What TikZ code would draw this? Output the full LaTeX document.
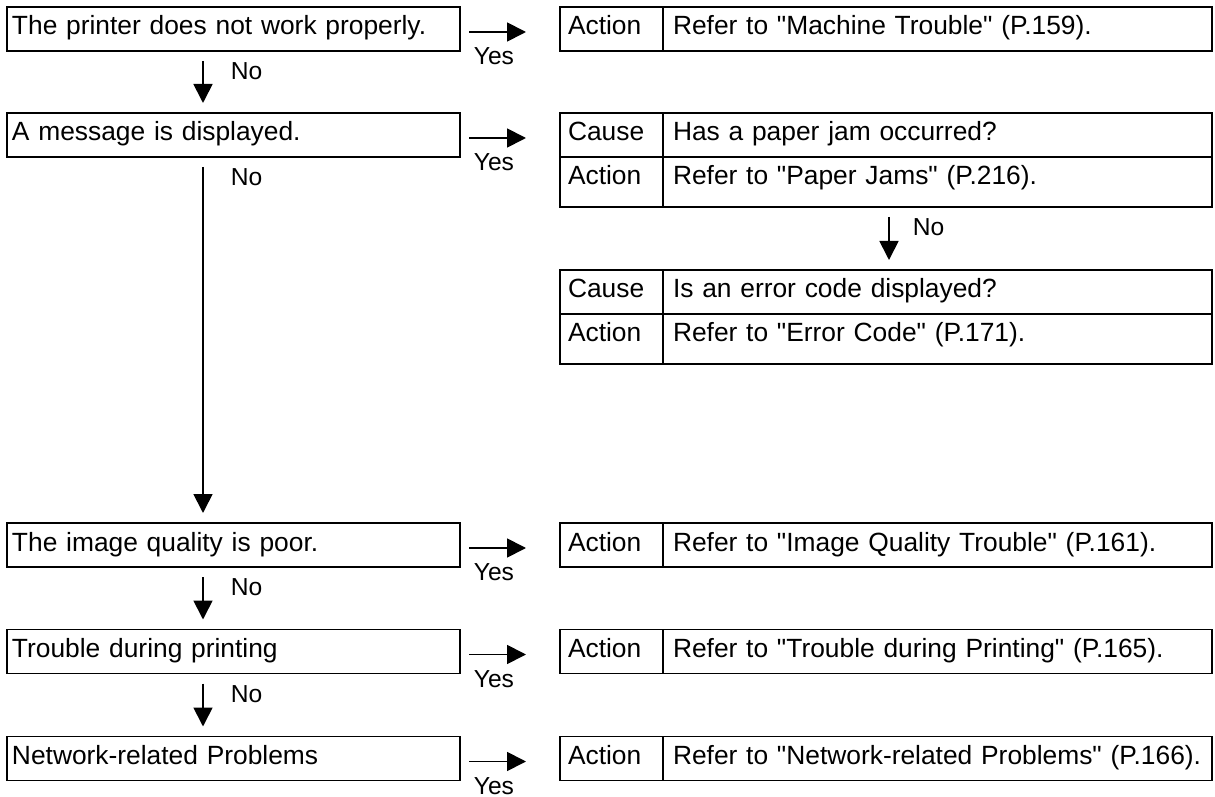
\documentclass[tikz,border=0pt]{standalone}
\usepackage{fontspec}
\newfontfamily\arialf{Liberation Sans}
\usetikzlibrary{arrows.meta,positioning}
\tikzset{
  qbox/.style={rectangle,draw,line width=1.1pt,outer sep=0pt,anchor=west,
               minimum width=9.06cm,text width=8.86cm,inner xsep=0.1cm,
               inner ysep=0.1cm,minimum height=0.88cm,text height=0.4cm,
               text depth=0.16cm,align=left,font=\arialf\fontsize{15}{18}\selectfont},
  kcell/.style={rectangle,draw,line width=1.1pt,outer sep=0pt,
               minimum width=2.06cm,text width=1.74cm,inner xsep=0.16cm,
               inner ysep=0.1cm,minimum height=0.88cm,text height=0.4cm,
               text depth=0.16cm,align=left,font=\arialf\fontsize{15}{18}\selectfont},
  vcell/.style={kcell,minimum width=10.98cm,text width=10.58cm,inner xsep=0.2cm},
  tall/.style={minimum height=1cm,text depth=0.3cm},
  arr/.style={-{Triangle[length=0.38cm,width=0.38cm]},line width=1pt},
  yn/.style={anchor=north west,inner sep=0pt,font=\arialf\fontsize{14}{16}\selectfont},
}

\begin{document}
\begin{tikzpicture}

  \useasboundingbox (0,0) rectangle (24.3,-15.94);

  % questions, left column
  \node[qbox] (Q1) at (0.14,-0.58)  {The printer does not work properly.};
  \node[qbox] (Q2) at (0.14,-2.70)  {A message is displayed.};
  \node[qbox] (Q3) at (0.14,-10.90) {The image quality is poor.};
  \node[qbox] (Q4) at (0.14,-13.03) {Trouble during printing};
  \node[qbox] (Q5) at (0.14,-15.17) {Network-related Problems};

  % answers, right column
  \node[kcell,anchor=west] (A1) at (11.2,-0.58) {Action};
  \node[vcell,right=0pt of A1] (A1t) {Refer to "Machine Trouble" (P.159).};

  \node[kcell,anchor=west] (Ca) at (11.2,-2.70) {Cause};
  \node[vcell,right=0pt of Ca] (Cat) {Has a paper jam occurred?};
  \node[kcell,tall,below=0pt of Ca] (Aa) {Action};
  \node[vcell,tall,right=0pt of Aa] (Aat) {Refer to "Paper Jams" (P.216).};

  \node[kcell,anchor=west] (Cb) at (11.2,-5.84) {Cause};
  \node[vcell,right=0pt of Cb] (Cbt) {Is an error code displayed?};
  \node[kcell,tall,below=0pt of Cb] (Ab) {Action};
  \node[vcell,tall,right=0pt of Ab] (Abt) {Refer to "Error Code" (P.171).};

  \node[kcell,anchor=west] (A3) at (11.2,-10.90) {Action};
  \node[vcell,right=0pt of A3] (A3t) {Refer to "Image Quality Trouble" (P.161).};

  \node[kcell,anchor=west] (A4) at (11.2,-13.03) {Action};
  \node[vcell,right=0pt of A4] (A4t) {Refer to "Trouble during Printing" (P.165).};

  \node[kcell,anchor=west] (A5) at (11.2,-15.17) {Action};
  \node[vcell,right=0pt of A5] (A5t) {Refer to "Network-related Problems" (P.166).};

  % yes branches
  \draw[arr] ([xshift=0.18cm,yshift=-0.06cm]Q1.east) -- ([xshift=-0.68cm,yshift=-0.06cm]A1.west)
    node[yn,pos=0,xshift=0.08cm,yshift=-0.3cm] {Yes};
  \draw[arr] ([xshift=0.18cm,yshift=-0.06cm]Q2.east) -- ([xshift=-0.68cm,yshift=-0.06cm]Ca.west)
    node[yn,pos=0,xshift=0.08cm,yshift=-0.3cm] {Yes};
  \draw[arr] ([xshift=0.18cm,yshift=-0.06cm]Q3.east) -- ([xshift=-0.68cm,yshift=-0.06cm]A3.west)
    node[yn,pos=0,xshift=0.08cm,yshift=-0.3cm] {Yes};
  \draw[arr] ([xshift=0.18cm,yshift=-0.06cm]Q4.east) -- ([xshift=-0.68cm,yshift=-0.06cm]A4.west)
    node[yn,pos=0,xshift=0.08cm,yshift=-0.3cm] {Yes};
  \draw[arr] ([xshift=0.18cm,yshift=-0.06cm]Q5.east) -- ([xshift=-0.68cm,yshift=-0.06cm]A5.west)
    node[yn,pos=0,xshift=0.08cm,yshift=-0.3cm] {Yes};

  % no branches
  \draw[arr] ([xshift=3.92cm,yshift=-0.2cm]Q1.south west) -- ([xshift=3.92cm,yshift=0.2cm]Q2.north west)
    node[yn,pos=0,xshift=0.54cm,yshift=-0.02cm] {No};
  \draw[arr] ([xshift=3.92cm,yshift=-0.2cm]Q2.south west) -- ([xshift=3.92cm,yshift=0.2cm]Q3.north west)
    node[yn,pos=0,xshift=0.54cm,yshift=-0.02cm] {No};
  \draw[arr] ([xshift=3.92cm,yshift=-0.2cm]Q3.south west) -- ([xshift=3.92cm,yshift=0.2cm]Q4.north west)
    node[yn,pos=0,xshift=0.54cm,yshift=-0.02cm] {No};
  \draw[arr] ([xshift=3.92cm,yshift=-0.2cm]Q4.south west) -- ([xshift=3.92cm,yshift=0.2cm]Q5.north west)
    node[yn,pos=0,xshift=0.54cm,yshift=-0.02cm] {No};
  \draw[arr] ([xshift=-0.97cm,yshift=-0.2cm]Aat.south) -- ([xshift=-0.97cm,yshift=0.2cm]Cbt.north)
    node[yn,pos=0,xshift=0.46cm,yshift=-0.02cm] {No};

\end{tikzpicture}
\end{document}
